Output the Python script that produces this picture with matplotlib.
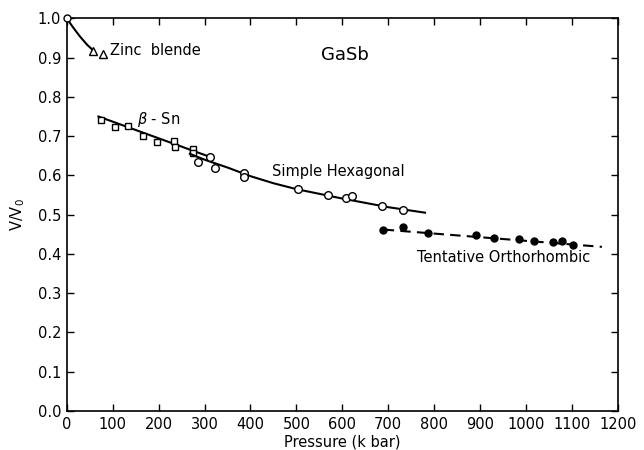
import matplotlib
matplotlib.use("Agg")
import matplotlib.pyplot as plt
import numpy as np

plt.rcParams['font.family'] = ['DejaVu Sans']

# --- data (pressure in kbar, V/V0) ---
zb_p = [0, 58, 78]
zb_v = [1.0, 0.916, 0.910]
zb_curve_p = [0, 15, 30, 45, 58]
zb_curve_v = [1.0, 0.975, 0.952, 0.932, 0.918]

bsn_p = [74, 105, 133, 165, 196, 234, 236, 274, 274]
bsn_v = [0.742, 0.723, 0.725, 0.700, 0.685, 0.688, 0.673, 0.667, 0.658]
bsn_line_p = [69, 312]
bsn_line_v = [0.750, 0.647]

sh_p = [285, 312, 323, 386, 386, 504, 568, 607, 620, 686, 731]
sh_v = [0.633, 0.647, 0.618, 0.607, 0.595, 0.565, 0.550, 0.543, 0.548, 0.522, 0.513]
sh_curve_p = [268, 300, 350, 400, 450, 500, 550, 600, 650, 700, 780]
sh_curve_v = [0.655, 0.640, 0.620, 0.598, 0.580, 0.565, 0.553, 0.541, 0.530, 0.519, 0.505]

orth_p = [689, 733, 787, 891, 931, 985, 1018, 1059, 1078, 1101]
orth_v = [0.461, 0.468, 0.452, 0.447, 0.441, 0.437, 0.433, 0.431, 0.433, 0.423]
orth_line_p = [690, 1165]
orth_line_v = [0.462, 0.418]

x_ticks = list(range(0, 1201, 100))
y_ticks = [0.0, 0.1, 0.2, 0.3, 0.4, 0.5, 0.6, 0.7, 0.8, 0.9, 1.0]

fig = plt.figure(figsize=(6.44, 4.5), dpi=100)
ax = fig.add_axes([0.1036, 0.0867, 0.9596 - 0.1036, 0.9593 - 0.0867])

lw = 1.5
ax.plot(zb_curve_p, zb_curve_v, color='black', lw=lw)
ax.plot(zb_p[:1], zb_v[:1], 'o', ms=5, mfc='white', mec='black', mew=1.0,
        clip_on=False, zorder=4)
ax.plot(zb_p[1:], zb_v[1:], '^', ms=6, mfc='white', mec='black', mew=1.0)

ax.plot(bsn_line_p, bsn_line_v, color='black', lw=lw)
ax.plot(bsn_p, bsn_v, 's', ms=5, mfc='white', mec='black', mew=1.0)

ax.plot(sh_curve_p, sh_curve_v, color='black', lw=lw)
ax.plot(sh_p, sh_v, 'o', ms=5.5, mfc='white', mec='black', mew=1.0, zorder=3)

ax.plot(orth_line_p, orth_line_v, color='black', lw=lw, linestyle=(0, (5, 3)))
ax.plot(orth_p, orth_v, 'o', ms=5, mfc='black', mec='black')

ax.set_xlim(0, 1200)
ax.set_ylim(0, 1.0)
ax.set_xticks(x_ticks)
ax.set_yticks(y_ticks)
ax.set_xticklabels([str(t) for t in x_ticks], fontsize=10.5)
ax.set_yticklabels(['%.1f' % t for t in y_ticks], fontsize=10.5)
ax.tick_params(direction='in', top=True, right=True, length=5, width=1, pad=4)
for s in ax.spines.values():
    s.set_linewidth(1.2)

ax.set_xlabel('Pressure (k bar)', fontsize=10.5, labelpad=2)
ax.set_ylabel('V/V$_0$', fontsize=10.5, labelpad=8)

ax.text(606, 0.906, 'GaSb', fontsize=13, ha='center', va='center')
ax.text(94, 0.917, 'Zinc  blende', fontsize=10.5, ha='left', va='center')
ax.text(152, 0.742, r'$\beta$ - Sn', fontsize=10.5, ha='left', va='center')
ax.text(446, 0.611, 'Simple Hexagonal', fontsize=10.5, ha='left', va='center')
ax.text(763, 0.390, 'Tentative Orthorhombic', fontsize=10.5, ha='left', va='center')

fig.savefig('out.png', dpi=100)
